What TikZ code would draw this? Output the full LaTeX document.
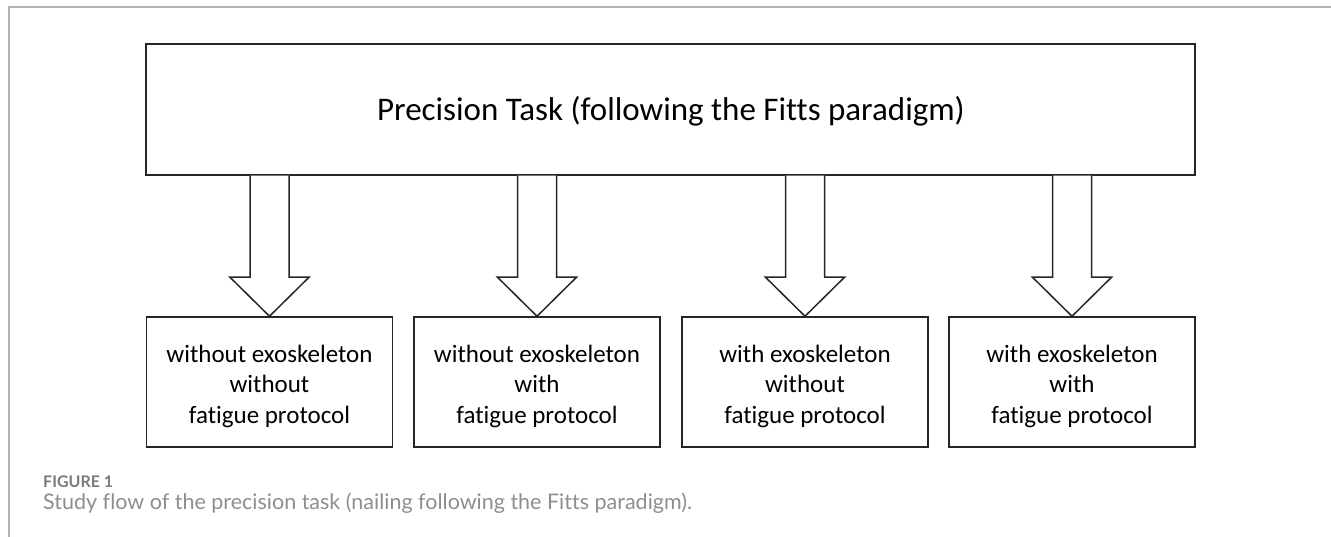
\documentclass[tikz,border=0pt]{standalone}
\usepackage{fontspec}
\setmainfont{Carlito}[Ligatures=NoCommon]
\newfontfamily\capfont{Lato}[Ligatures=NoCommon]
\usetikzlibrary{calc}
\definecolor{boxline}{HTML}{262626}
\definecolor{framegray}{HTML}{B4B4B4}
\definecolor{capgray}{HTML}{7A7A7A}
\tikzset{
  stepbox/.style={draw=boxline, line width=1.5pt, minimum width=246pt, minimum height=130pt, inner sep=0pt},
  steptext/.style={inner sep=0pt, align=center, font=\fontsize{25}{30.5}\selectfont},
  topbox/.style={draw=boxline, line width=1.5pt, minimum width=1049pt, minimum height=131pt, inner sep=0pt},
  blockarr/.style={draw=boxline, line width=1.5pt, fill=white, line join=miter},
  framel/.style={draw=framegray, line width=1.3pt},
}
\newcommand{\blockarrow}[1]{%
  \draw[blockarr] let \p1=(#1.north), \p2=(top.south) in
    (\x1-19.5pt,\y2) -- (\x1-19.5pt,\y1+39pt) -- (\x1-39.5pt,\y1+39pt) -- (\x1,\y1)
    -- (\x1+39.5pt,\y1+39pt) -- (\x1+19.5pt,\y1+39pt) -- (\x1+19.5pt,\y2);
}
\begin{document}
\begin{tikzpicture}[x=1pt,y=-1pt]
\useasboundingbox (0,0) rectangle (1331,537);
\coordinate (f1) at (1331,7);
\coordinate (f2) at (9,7);
\coordinate (f3) at (9,537);
\draw[framel] (f1) -- (f2) -- (f3);
\node[topbox] (top) at (670.5,109.5) {};
\node[anchor=base, inner sep=0pt, font=\fontsize{33}{40}\selectfont] (title) at (671,121) {Precision Task (following the Fitts paradigm)};
\node[stepbox] (b1) at (269.5,382) {};
\node[stepbox] (b2) at (537,382) {};
\node[stepbox] (b3) at (805,382) {};
\node[stepbox] (b4) at (1072,382) {};
\node[steptext] (t1) at (269.5,386) {without exoskeleton\\without\\fatigue protocol};
\node[steptext] (t2) at (537,386) {without exoskeleton\\with\\fatigue protocol};
\node[steptext] (t3) at (805,386) {with exoskeleton\\without\\fatigue protocol};
\node[steptext] (t4) at (1072,386) {with exoskeleton\\with\\fatigue protocol};
\blockarrow{b1}
\blockarrow{b2}
\blockarrow{b3}
\blockarrow{b4}
\node[anchor=base west, inner sep=0pt, text=capgray, font=\capfont\bfseries\fontsize{16}{18}\selectfont] (fig) at (43,487) {FIGURE 1};
\node[anchor=base west, inner sep=0pt, text=capgray!85, font=\capfont\fontsize{21.5}{24}\selectfont] (cap) at (43,509) {Study flow of the precision task (nailing following the Fitts paradigm).};
\end{tikzpicture}
\end{document}
